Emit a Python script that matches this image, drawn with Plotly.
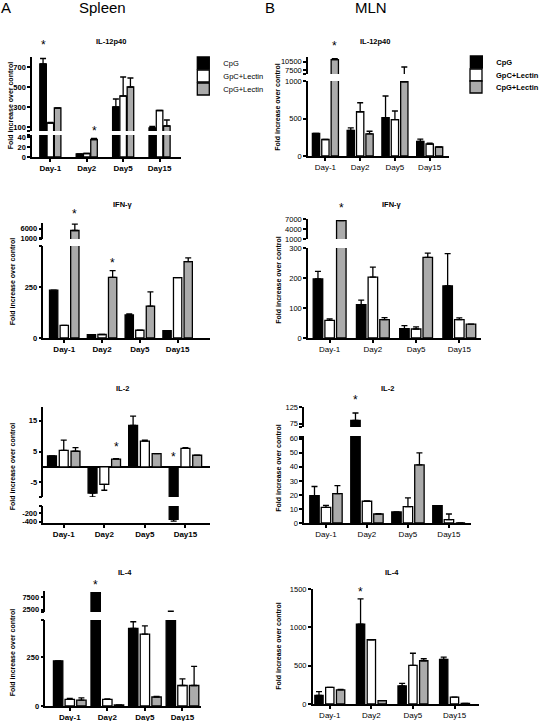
import plotly.graph_objects as go

W, H = 544, 721

days = ["Day-1", "Day2", "Day5", "Day15"]
series = ["CpG", "GpC+Lectin", "CpG+Lectin"]

# ---------------- Spleen (A) ----------------
spl_il12_cpg = [730, 6, 300, 90]
spl_il12_cpg_err = [55, 0, 80, 15]
spl_il12_gpc = [140, 7, 410, 265]
spl_il12_gpc_err = [5, 0, 190, 0]
spl_il12_cpgl = [290, 35, 500, 110]
spl_il12_cpgl_err = [0, 2, 90, 60]
spl_il12_stars = [("Day-1", 0), ("Day2", 2)]

spl_ifn_cpg = [234, 16, 113, 36]
spl_ifn_cpg_err = [0, 0, 5, 0]
spl_ifn_gpc = [62, 17, 38, 295]
spl_ifn_gpc_err = [0, 0, 0, 0]
spl_ifn_cpgl = [5000, 297, 156, 374]
spl_ifn_cpgl_err = [3200, 33, 70, 18]
spl_ifn_stars = [("Day-1", 2), ("Day2", 2)]

spl_il2_cpg = [3.6, -8.5, 13.5, -344]
spl_il2_cpg_err = [0, 1.3, 3.0, 40]
spl_il2_gpc = [5.4, -5.7, 8.4, 6.0]
spl_il2_gpc_err = [3.3, 1.9, 0.3, 0.3]
spl_il2_cpgl = [5.1, 2.5, 4.3, 3.8]
spl_il2_cpgl_err = [1.2, 0.2, 0, 0]
spl_il2_stars = [("Day2", 2), ("Day15", 0)]

spl_il4_cpg = [231, 9200, 397, 1000]
spl_il4_cpg_err = [0, 0, 34, 800]
spl_il4_gpc = [34, 34, 368, 105]
spl_il4_gpc_err = [5, 2, 42, 34]
spl_il4_cpgl = [30, 5, 46, 105]
spl_il4_cpgl_err = [12, 0, 3, 98]
spl_il4_stars = [("Day2", 0)]

# ---------------- MLN (B) ----------------
mln_il12_cpg = [300, 340, 510, 195]
mln_il12_cpg_err = [0, 35, 290, 30]
mln_il12_gpc = [220, 590, 485, 160]
mln_il12_gpc_err = [0, 120, 115, 10]
mln_il12_cpgl = [11300, 295, 990, 120]
mln_il12_cpgl_err = [400, 35, 7600, 0]
mln_il12_stars = [("Day-1", 2)]

mln_ifn_cpg = [197, 111, 31, 174]
mln_ifn_cpg_err = [25, 15, 10, 107]
mln_ifn_gpc = [59, 203, 30, 61]
mln_ifn_gpc_err = [5, 33, 7, 6]
mln_ifn_cpgl = [6500, 61, 269, 46]
mln_ifn_cpgl_err = [0, 7, 14, 0]
mln_ifn_stars = [("Day-1", 2)]

mln_il2_cpg = [19.5, 85, 7.9, 12.4]
mln_il2_cpg_err = [6.5, 22, 0, 0]
mln_il2_gpc = [11.2, 15.5, 11.7, 2.4]
mln_il2_gpc_err = [1.4, 0.3, 6.2, 4.0]
mln_il2_cpgl = [21, 6.4, 41.4, 0]
mln_il2_cpgl_err = [5.7, 0.3, 8.6, 0]
mln_il2_stars = [("Day2", 0)]

mln_il4_cpg = [111, 1043, 235, 581]
mln_il4_cpg_err = [51, 329, 34, 30]
mln_il4_gpc = [218, 838, 504, 90]
mln_il4_gpc_err = [0, 0, 158, 0]
mln_il4_cpgl = [184, 43, 564, 8]
mln_il4_cpgl_err = [5, 0, 26, 0]
mln_il4_stars = [("Day2", 0)]

# ---------------- layout / style ----------------
FONT = "Liberation Sans, Arial, sans-serif"
fills = ["#000000", "#ffffff", "#ababab"]


def px(x):
    return x / W


def py(y):
    return 1 - y / H


# segs: (pixel top, pixel bottom), range, labelled ticks, unlabelled boundary ticks
panels = [
    dict(title="IL-12p40", tpos=(117, 42), ytx=12, yty=105, bold=True,
         legends=[("legend", 194, 63), ("legend3", 194, 76), ("legend4", 194, 89)],
         vals=[spl_il12_cpg, spl_il12_gpc, spl_il12_cpgl],
         errs=[spl_il12_cpg_err, spl_il12_gpc_err, spl_il12_cpgl_err],
         stars=spl_il12_stars, star_shift=[4, -1],
         xdom=(34, 192), xr=(-0.5, 3.6), bw=0.18, pitch=0.2,
         segs=[((57, 131), (60, 800), [100, 300, 500, 700], [62]),
               ((135, 157), (0, 44), [0, 20, 40], [43.5])]),
    dict(title="IFN-γ", tpos=(130, 204), ytx=13, yty=281, bold=True,
         vals=[spl_ifn_cpg, spl_ifn_gpc, spl_ifn_cpgl],
         errs=[spl_ifn_cpg_err, spl_ifn_gpc_err, spl_ifn_cpgl_err],
         stars=spl_ifn_stars, star_shift=[1, -1],
         xdom=(46, 222), xr=(-0.55, 3.85), bw=0.22, pitch=0.28,
         segs=[((223, 239), (700, 8800), [1000, 6000], [720]),
               ((246, 338), (0, 450), [0, 250], [448])]),
    dict(title="IL-2", tpos=(130, 388), ytx=13, yty=466, bold=True,
         vals=[spl_il2_cpg, spl_il2_gpc, spl_il2_cpgl],
         errs=[spl_il2_cpg_err, spl_il2_gpc_err, spl_il2_cpgl_err],
         stars=spl_il2_stars, star_shift=[3, 1],
         xdom=(46, 222), xr=(-0.5, 3.6), bw=0.22, pitch=0.29, zero=True,
         segs=[((407, 497), (-9.8, 19.5), [-5, 5, 15], [-9.7]),
               ((506, 523), (-430, -30), [-200, -400], [-32])]),
    dict(title="IL-4", tpos=(132, 572), ytx=13, yty=652, bold=True,
         vals=[spl_il4_cpg, spl_il4_gpc, spl_il4_cpgl],
         errs=[spl_il4_cpg_err, spl_il4_gpc_err, spl_il4_cpgl_err],
         stars=spl_il4_stars, star_shift=[-1],
         xdom=(48, 213), xr=(-0.65, 3.5), bw=0.25, pitch=0.31,
         segs=[((591, 612), (1500, 9900), [2500, 7500], [1520]),
               ((620, 706), (0, 440), [0, 250], [438])]),
    dict(title="IL-12p40", tpos=(397, 42), ytx=294, yty=107, bold=False,
         legends=[("legend2", 483, 62), ("legend5", 483, 75), ("legend6", 483, 87)],
         vals=[mln_il12_cpg, mln_il12_gpc, mln_il12_cpgl],
         errs=[mln_il12_cpg_err, mln_il12_gpc_err, mln_il12_cpgl_err],
         stars=mln_il12_stars, star_shift=[4],
         xdom=(326, 475), xr=(-0.5, 3.55), bw=0.21, pitch=0.27,
         segs=[((57, 74), (6000, 12300), [7500, 10500], [6050]),
               ((81, 156), (0, 1000), [0, 500, 1000], [])]),
    dict(title="IFN-γ", tpos=(415, 204), ytx=294, yty=280, bold=False,
         vals=[mln_ifn_cpg, mln_ifn_gpc, mln_ifn_cpgl],
         errs=[mln_ifn_cpg_err, mln_ifn_gpc_err, mln_ifn_cpgl_err],
         stars=mln_ifn_stars, star_shift=[4],
         xdom=(326, 509), xr=(-0.5, 3.5), bw=0.22, pitch=0.27,
         segs=[((219, 239), (1000, 7000), [1000, 4000, 7000], []),
               ((248, 338), (0, 300), [0, 100, 200, 300], [])]),
    dict(title="IL-2", tpos=(410, 388), ytx=294, yty=468, bold=False,
         vals=[mln_il2_cpg, mln_il2_gpc, mln_il2_cpgl],
         errs=[mln_il2_cpg_err, mln_il2_gpc_err, mln_il2_cpgl_err],
         stars=mln_il2_stars, star_shift=[4],
         xdom=(322, 499), xr=(-0.53, 3.55), bw=0.23, pitch=0.28,
         segs=[((407, 427), (65, 125), [75, 125], [66]),
               ((436, 523), (0, 62), [0, 10, 20, 30, 40, 50, 60], [61.5])]),
    dict(title="IL-4", tpos=(415, 572), ytx=294, yty=646, bold=False,
         vals=[mln_il4_cpg, mln_il4_gpc, mln_il4_cpgl],
         errs=[mln_il4_cpg_err, mln_il4_gpc_err, mln_il4_cpgl_err],
         stars=mln_il4_stars, star_shift=[-2],
         xdom=(331, 507), xr=(-0.41, 3.59), bw=0.2, pitch=0.26,
         segs=[((589, 704), (0, 1500), [0, 500, 1000, 1500], [])]),
]

fig = go.Figure()
layout = dict(
    template="none",
    width=W, height=H, margin=dict(l=0, r=0, t=0, b=0, pad=0), autosize=False,
    paper_bgcolor="white", plot_bgcolor="rgba(0,0,0,0)",
    barmode="overlay", showlegend=True,
    font=dict(family=FONT, color="black", size=8),
    annotations=[],
)

ycount = 0
for pi, p in enumerate(panels):
    xn = pi + 1
    xname = "x" if xn == 1 else f"x{xn}"
    xkey = "xaxis" if xn == 1 else f"xaxis{xn}"
    weight = "bold" if p["bold"] else "normal"
    seg_names = []
    for si, (dom, rng, ticks, extra) in enumerate(p["segs"]):
        ycount += 1
        yname = "y" if ycount == 1 else f"y{ycount}"
        ykey = "yaxis" if ycount == 1 else f"yaxis{ycount}"
        seg_names.append((yname, rng))
        tv = list(ticks) + list(extra)
        tt = [f"{t}" for t in ticks] + [""] * len(extra)
        layout[ykey] = dict(
            domain=[py(dom[1]), py(dom[0])], range=list(rng), anchor=xname,
            showline=True, linecolor="black", linewidth=1.5, mirror=False,
            ticks="outside", ticklen=3, tickwidth=1.5, tickcolor="black",
            tickvals=tv, ticktext=tt, showgrid=False,
            zeroline=bool(p.get("zero")) and rng[0] < 0 < rng[1],
            zerolinecolor="black", zerolinewidth=1.5,
            tickfont=dict(family=FONT, size=7.5, weight=weight, color="black"),
            fixedrange=True,
        )
        lo, hi = rng
        for i in range(3):
            vals = p["vals"][i]
            errs = p["errs"][i]
            up = [e if v >= 0 else 0 for v, e in zip(vals, errs)]
            dn = [e if v < 0 else 0 for v, e in zip(vals, errs)]
            # only the bars (with their error bars) that reach into this axis segment
            seg_vals = []
            for v, u, d in zip(vals, up, dn):
                low_end = min(0, v - d)
                high_end = max(0, v + u)
                seg_vals.append(v if (high_end >= lo and low_end <= hi) else None)
            legends = p.get("legends")
            show = bool(legends) and si == 0
            fig.add_trace(go.Bar(
                x=days, y=seg_vals, name=series[i],
                xaxis=xname, yaxis=yname,
                width=p["bw"], offset=(i - 1) * p["pitch"] - p["bw"] / 2,
                marker=dict(color=fills[i], line=dict(color="black", width=1.3)),
                error_y=dict(type="data", symmetric=False, array=up, arrayminus=dn,
                             color="black", thickness=1.3, width=3),
                showlegend=show,
                legend=(legends[i][0] if legends else "legend"),
            ))
    bottom_y = seg_names[-1][0]
    layout[xkey] = dict(
        domain=[px(p["xdom"][0]), px(p["xdom"][1])], range=list(p["xr"]),
        anchor=bottom_y, type="category", categoryorder="array", categoryarray=days,
        showline=True, linecolor="black", linewidth=1.5,
        ticks="outside", ticklen=3, tickwidth=1.5, tickcolor="black",
        showgrid=False, zeroline=False, fixedrange=True,
        tickfont=dict(family=FONT, size=8, weight=weight, color="black"),
    )
    # legends (one entry per legend box so the entries can sit close together)
    if p.get("legends"):
        for lname, lx, ly in p["legends"]:
            layout[lname] = dict(
                x=px(lx), y=py(ly), xanchor="left", yanchor="middle",
                bgcolor="rgba(0,0,0,0)", itemwidth=30, borderwidth=0,
                font=dict(family=FONT, size=7.5, weight="bold" if not p["bold"] else "normal",
                          color="black"))
    # panel title
    layout["annotations"].append(dict(
        text=p["title"], x=px(p["tpos"][0]), y=py(p["tpos"][1]), xref="paper", yref="paper",
        showarrow=False, xanchor="center", yanchor="middle",
        font=dict(family=FONT, size=7.5, weight="bold", color="black")))
    # y-axis title
    layout["annotations"].append(dict(
        text="Fold increase over control", x=px(p["ytx"]), y=py(p["yty"]),
        xref="paper", yref="paper", showarrow=False, textangle=-90,
        xanchor="center", yanchor="middle",
        font=dict(family=FONT, size=7, weight="bold", color="black")))
    # significance stars
    for (day, si_), shift in zip(p["stars"], p["star_shift"]):
        ci = days.index(day)
        v = p["vals"][si_][ci]
        e = p["errs"][si_][ci]
        top = v + e if v >= 0 else 0
        target = None
        for yname, rng in seg_names:
            if rng[0] <= top <= rng[1]:
                target = (yname, top)
                break
        if target is None:
            best = None
            for yname, rng in seg_names:
                if top > rng[1] and (best is None or rng[1] > best[1]):
                    best = (yname, rng[1])
            target = best
        layout["annotations"].append(dict(
            text="*", x=ci + (si_ - 1) * p["pitch"], y=target[1],
            xref=xname, yref=target[0], showarrow=False,
            xanchor="center", yanchor="bottom", yshift=shift,
            font=dict(family=FONT, size=12, color="black")))

# headers
for txt, x, sz in [("A", 6, 15), ("Spleen", 108, 15), ("B", 286, 15), ("MLN", 393, 15)]:
    layout["annotations"].append(dict(
        text=txt, x=px(x), y=py(8), xref="paper", yref="paper", showarrow=False,
        xanchor="center", yanchor="middle", font=dict(family=FONT, size=sz, color="black")))

fig.update_layout(**layout)
fig.write_html(
    "out.html",
    config={"displayModeBar": False, "responsive": False},
    post_script=("document.body.style.margin='0px';"
                 "document.body.style.overflow='hidden';"
                 "document.documentElement.style.overflow='hidden';"),
)
